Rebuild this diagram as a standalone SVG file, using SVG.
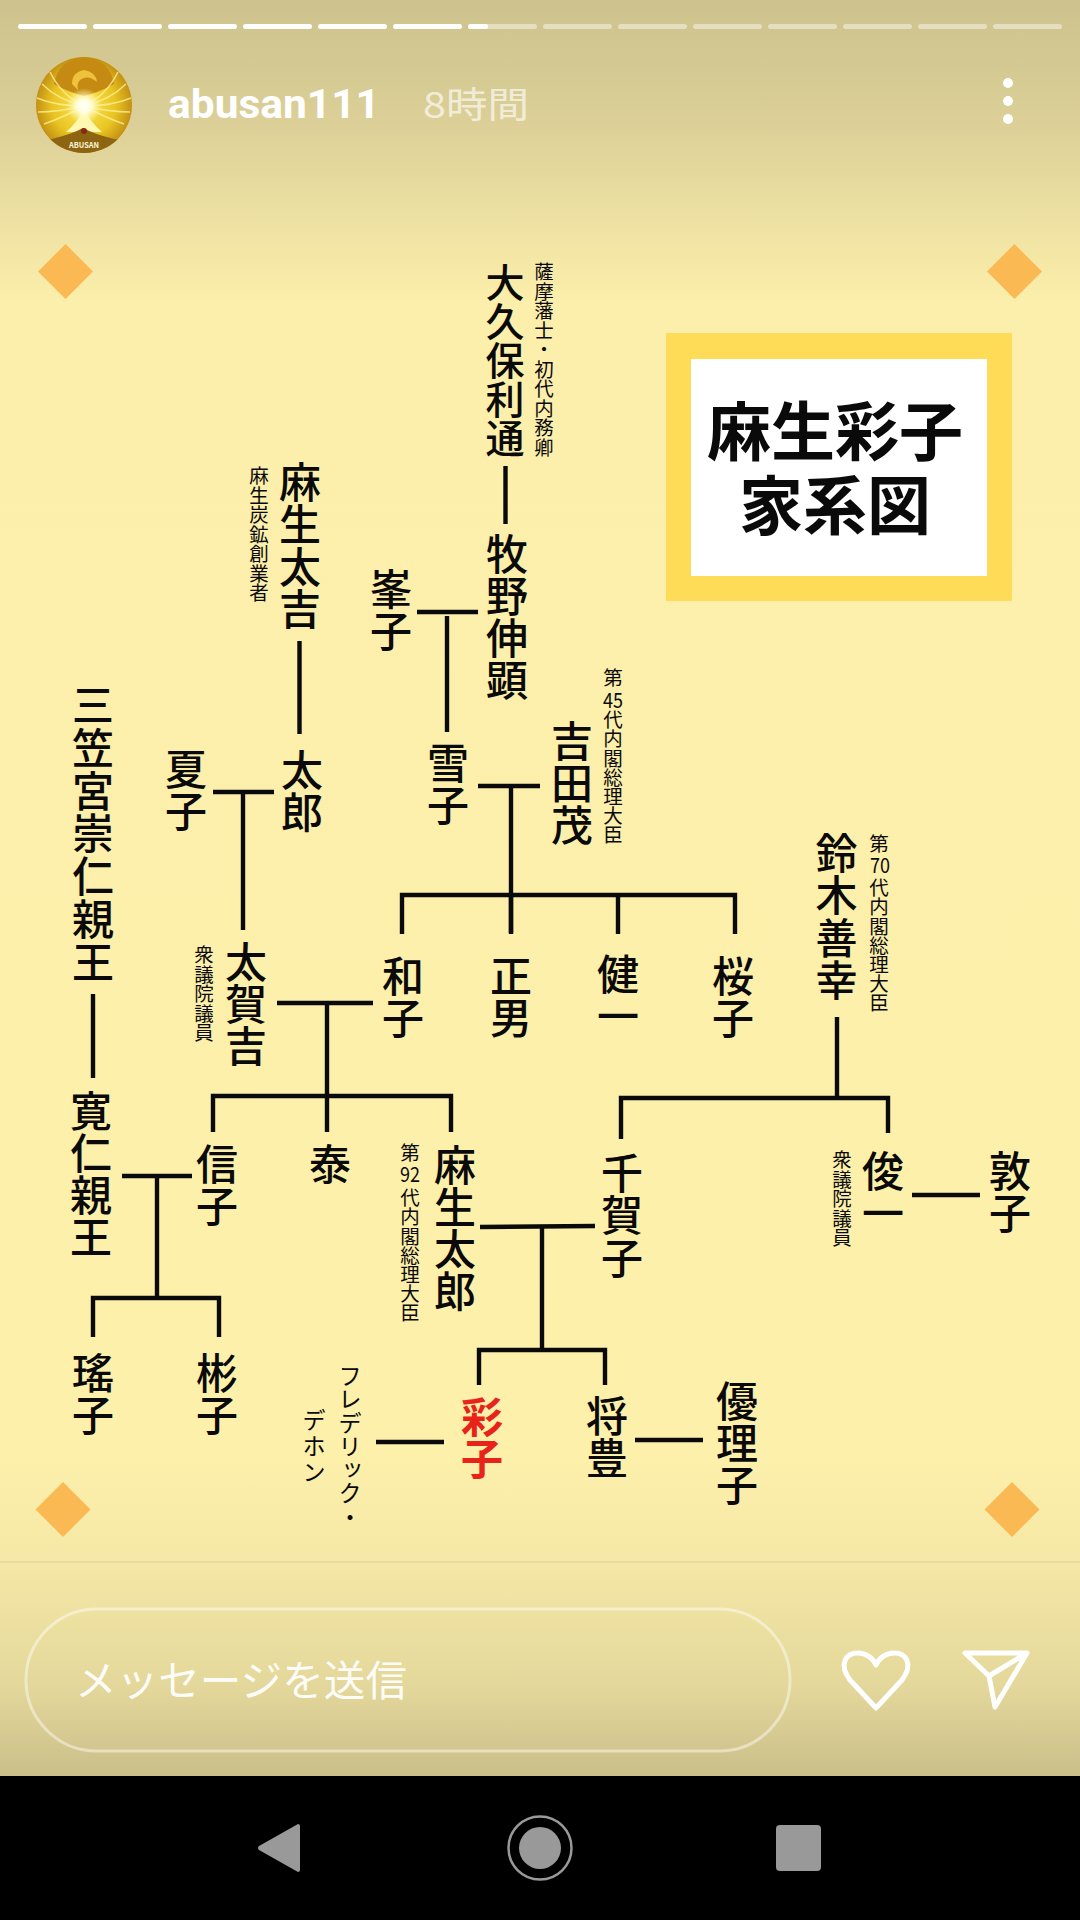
<svg xmlns="http://www.w3.org/2000/svg" width="1080" height="1920" viewBox="0 0 1080 1920">
<style>
text{font-family:"Noto Sans CJK JP","Noto Sans",sans-serif;fill:#0a0a0a}
.n{writing-mode:vertical-rl;font-size:42px;font-weight:500}
.o{writing-mode:vertical-rl;font-size:39px;font-weight:500}
.s{writing-mode:vertical-rl;font-size:19.5px}
.t{letter-spacing:-.3px}
.d{font-size:21px;text-anchor:middle}
.k{writing-mode:vertical-rl;font-size:23.5px}
.c line{stroke:#0a0a0a;stroke-width:4.4}
.c path{stroke:#0a0a0a;stroke-width:4.4;fill:none}
.p{fill:#fff;fill-opacity:.45}
.w{fill:#fff}
.m{fill:#fbb954}
.nav{fill:#999}
.f path{fill:none;stroke:#fff3a0;stroke-width:1.6;stroke-opacity:.75}
</style>
<defs>
<linearGradient id="bg" x1="0" y1="0" x2="0" y2="1">
<stop offset="0" stop-color="#cdc18d"/><stop offset=".07" stop-color="#dcd098"/><stop offset=".17" stop-color="#fcefab"/><stop offset=".82" stop-color="#fdf0ab"/><stop offset=".88" stop-color="#f5e8a6"/><stop offset=".95" stop-color="#e3d79b"/><stop offset="1" stop-color="#cbbf8a"/>
</linearGradient>
<radialGradient id="av" cx=".5" cy=".5" r=".55">
<stop offset="0" stop-color="#fbe85a"/><stop offset=".6" stop-color="#e9c422"/><stop offset="1" stop-color="#b9820f"/>
</radialGradient>
<radialGradient id="glow">
<stop offset="0" stop-color="#fff"/><stop offset=".4" stop-color="#fffdd8"/><stop offset="1" stop-color="#fff59a" stop-opacity="0"/>
</radialGradient>
<clipPath id="avc"><circle cx="84" cy="105" r="48"/></clipPath>
</defs>
<rect width="1080" height="1776" fill="url(#bg)"/>
<rect y="1776" width="1080" height="144" fill="#000"/>
<rect y="1561" width="1080" height="2" fill="#e8dca0"/>

<g id="progress">
<rect class="w" x="18" y="24" width="69" height="5" rx="2.5"/><rect class="w" x="93" y="24" width="69" height="5" rx="2.5"/><rect class="w" x="168" y="24" width="69" height="5" rx="2.5"/><rect class="w" x="243" y="24" width="69" height="5" rx="2.5"/><rect class="w" x="318" y="24" width="69" height="5" rx="2.5"/><rect class="w" x="393" y="24" width="69" height="5" rx="2.5"/>
<rect class="p" x="468" y="24" width="69" height="5" rx="2.5"/><rect class="w" x="468" y="24" width="20" height="5" rx="2.5"/>
<rect class="p" x="543" y="24" width="69" height="5" rx="2.5"/><rect class="p" x="618" y="24" width="69" height="5" rx="2.5"/><rect class="p" x="693" y="24" width="69" height="5" rx="2.5"/><rect class="p" x="768" y="24" width="69" height="5" rx="2.5"/><rect class="p" x="843" y="24" width="69" height="5" rx="2.5"/><rect class="p" x="918" y="24" width="69" height="5" rx="2.5"/><rect class="p" x="993" y="24" width="69" height="5" rx="2.5"/>
</g>

<g id="header">
<g clip-path="url(#avc)">
<rect x="36" y="57" width="96" height="96" fill="url(#av)"/>
<path d="M54 84Q58 60 84 57Q110 60 114 84Q100 92 84 96Q68 92 54 84Z" fill="#c58a12"/>
<path d="M72 84Q72 72 84 70Q96 72 97 82Q90 76 84 78Q76 80 78 90Z" fill="#eec23a"/>
<g class="f">
<path d="M84 106Q62 96 50 72"/><path d="M84 106Q58 100 42 84"/><path d="M84 106Q56 106 37 98"/><path d="M84 106Q58 112 38 112"/><path d="M84 106Q62 118 44 124"/>
<path d="M84 106Q106 96 118 72"/><path d="M84 106Q110 100 126 84"/><path d="M84 106Q112 106 131 98"/><path d="M84 106Q110 112 130 112"/><path d="M84 106Q106 118 124 124"/>
</g>
<path d="M84 108Q78 122 66 132L102 132Q90 122 84 108Z" fill="#fff8b0"/>
<ellipse cx="84" cy="106" rx="18" ry="18" fill="url(#glow)"/>
<path d="M36 141L52 139Q72 134 83 128Q94 134 114 139L132 141V153H36Z" fill="#8c6412"/>
<circle cx="84" cy="131" r="3" fill="#8a2a10"/>
</g>
<text x="84" y="148" text-anchor="middle" textLength="30" lengthAdjust="spacingAndGlyphs" style="font-size:8px;font-weight:700;fill:#fff7d8">ABUSAN</text>
<text x="168" y="118" textLength="212" lengthAdjust="spacingAndGlyphs" style="font-family:Roboto,sans-serif;font-size:40px;font-weight:700;fill:#fff">abusan111</text>
<text x="423" y="118" textLength="106" lengthAdjust="spacingAndGlyphs" style="font-size:36px;fill:#fff;fill-opacity:.65">8時間</text>
<circle class="w" cx="1008" cy="83" r="5"/><circle class="w" cx="1008" cy="101" r="5"/><circle class="w" cx="1008" cy="119" r="5"/>
</g>

<g id="ornaments">
<polygon class="m" points="65.500,244 93,271.500 65.500,299 38,271.500"/>
<polygon class="m" points="1014.500,244 1042,271.500 1014.500,299 987,271.500"/>
<polygon class="m" points="63,1482 90.500,1509.500 63,1537 35.500,1509.500"/>
<polygon class="m" points="1012,1482 1039.500,1509.500 1012,1537 984.500,1509.500"/>
</g>

<g id="title">
<rect x="666" y="333" width="346" height="268" fill="#ffdc58"/>
<rect x="691" y="359" width="296" height="217" fill="#fff"/>
<text text-anchor="middle" style="font-weight:700"><tspan x="835" y="455" style="font-size:64px">麻生彩子</tspan><tspan x="835" y="529" style="font-size:64px">家系図</tspan></text>
</g>

<g id="connectors" class="c">
<line x1="505.500" y1="466" x2="505.500" y2="524"/>
<line x1="417" y1="612" x2="478" y2="612"/><line x1="447" y1="616" x2="447" y2="732"/>
<line x1="299.500" y1="641" x2="299.500" y2="734"/>
<line x1="213" y1="792" x2="274" y2="792"/><line x1="243" y1="792" x2="243" y2="930"/>
<line x1="478" y1="786" x2="540" y2="786"/><line x1="511" y1="786" x2="511" y2="933"/>
<path d="M402 934V895H735V934"/><line x1="618" y1="895" x2="618" y2="934"/><line x1="511" y1="895" x2="511" y2="934"/>
<line x1="93" y1="994" x2="93" y2="1078"/>
<line x1="122" y1="1176" x2="192" y2="1176"/><line x1="157" y1="1176" x2="157" y2="1298"/>
<path d="M93 1337V1298H219V1337"/>
<line x1="277" y1="1003" x2="373" y2="1003"/><line x1="327" y1="1003" x2="327" y2="1132"/>
<path d="M213 1132V1096H451V1132"/>
<line x1="837" y1="1017" x2="837" y2="1098"/>
<path d="M621 1139V1098H888V1133"/>
<line x1="912" y1="1195" x2="980" y2="1195"/>
<line x1="480" y1="1227" x2="595" y2="1226"/><line x1="542" y1="1226" x2="542" y2="1350"/>
<path d="M479 1385V1350H605V1385"/>
<line x1="635" y1="1440" x2="703" y2="1440"/>
<line x1="376" y1="1442" x2="444" y2="1442"/>
</g>

<g id="okubo"><text class="o" x="505" y="263">大久保利通</text><text class="s" x="544" y="262">薩摩藩士・初代内務卿</text></g>
<g id="makino"><text class="n" x="507" y="533">牧野伸顕</text></g>
<g id="mineko"><text class="n" x="391" y="568">峯子</text></g>
<g id="yukiko"><text class="n" x="448" y="742">雪子</text></g>
<g id="yoshida"><text class="n" x="572" y="720">吉田茂</text>
<text class="s" x="613" y="668">第</text><text class="d" x="613" y="708" textLength="20" lengthAdjust="spacingAndGlyphs">45</text><text class="s t" x="613" y="710">代内閣総理大臣</text></g>
<g id="aso-takichi"><text class="n" x="300" y="461" style="letter-spacing:.3px">麻生太吉</text><text class="s" x="259" y="466">麻生炭鉱創業者</text></g>
<g id="taro"><text class="n" x="302" y="749">太郎</text></g>
<g id="natsuko"><text class="n" x="186" y="748">夏子</text></g>
<g id="mikasa"><text class="n" x="93" y="684" style="letter-spacing:.8px">三笠宮崇仁親王</text></g>
<g id="tomohito"><text class="n" x="91" y="1090">寛仁親王</text></g>
<g id="nobuko"><text class="n" x="217" y="1143">信子</text></g>
<g id="yoko"><text class="n" x="93" y="1352">瑤子</text></g>
<g id="akiko"><text class="n" x="217" y="1352">彬子</text></g>
<g id="takakichi"><text class="n" x="246" y="941">太賀吉</text><text class="s" x="204" y="945">衆議院議員</text></g>
<g id="kazuko"><text class="n" x="403" y="955">和子</text></g>
<g id="masao"><text class="n" x="511" y="955">正男</text></g>
<g id="kenichi"><text class="n" x="618" y="953">健一</text></g>
<g id="sakurako"><text class="n" x="733" y="955">桜子</text></g>
<g id="suzuki"><text class="n" x="836.500" y="832" style="letter-spacing:.5px">鈴木善幸</text>
<text class="s" x="879" y="834">第</text><text class="d" x="880" y="873" textLength="20" lengthAdjust="spacingAndGlyphs">70</text><text class="s t" x="879" y="878">代内閣総理大臣</text></g>
<g id="chikako"><text class="n" x="622" y="1152" style="letter-spacing:.5px">千賀子</text></g>
<g id="aso-taro"><text class="n" x="455" y="1144">麻生太郎</text>
<text class="s" x="410" y="1143">第</text><text class="d" x="410" y="1182" textLength="20" lengthAdjust="spacingAndGlyphs">92</text><text class="s t" x="410" y="1188">代内閣総理大臣</text></g>
<g id="yasushi"><text class="n" x="330" y="1143">泰</text></g>
<g id="shunichi"><text class="n" x="883" y="1150">俊一</text><text class="s" x="842" y="1150">衆議院議員</text></g>
<g id="atsuko"><text class="n" x="1010" y="1150">敦子</text></g>
<g id="ayako"><text class="n" x="482" y="1396" style="fill:#e8231a;font-weight:700">彩子</text></g>
<g id="masatoyo"><text class="n" x="607" y="1395">将豊</text></g>
<g id="yuriko"><text class="n" x="737" y="1380">優理子</text></g>
<g id="frederic"><text class="k" x="350" y="1364">フレデリック・</text><text class="k" x="314" y="1408" style="letter-spacing:2.5px">デホン</text></g>

<g id="reply">
<rect x="26" y="1609" width="764" height="142" rx="71" fill="none" stroke="#fff" stroke-opacity=".45" stroke-width="3"/>
<text x="75" y="1696" textLength="332" lengthAdjust="spacingAndGlyphs" style="font-size:42px;fill:#fff;fill-opacity:.95">メッセージを送信</text>
<path d="M876 1708L850 1680C838 1664 846 1653 858 1653C866 1653 873 1658 876 1665C879 1658 886 1653 894 1653C906 1653 914 1664 902 1680Z" fill="none" stroke="#fff" stroke-width="5" stroke-linejoin="round"/>
<path d="M965 1653H1027L995 1707L989 1676ZM989 1676L1027 1653" fill="none" stroke="#fff" stroke-width="5" stroke-linejoin="round"/>
</g>

<g id="nav">
<path class="nav" d="M298 1824L259 1846Q257 1848 259 1850L298 1872Q300 1872 300 1870V1826Q300 1824 298 1824Z"/>
<circle cx="540" cy="1848" r="31.500" fill="none" stroke="#999" stroke-width="2.500"/>
<circle class="nav" cx="540" cy="1848" r="21"/>
<rect class="nav" x="776" y="1825" width="45" height="46" rx="4"/>
</g>
</svg>
